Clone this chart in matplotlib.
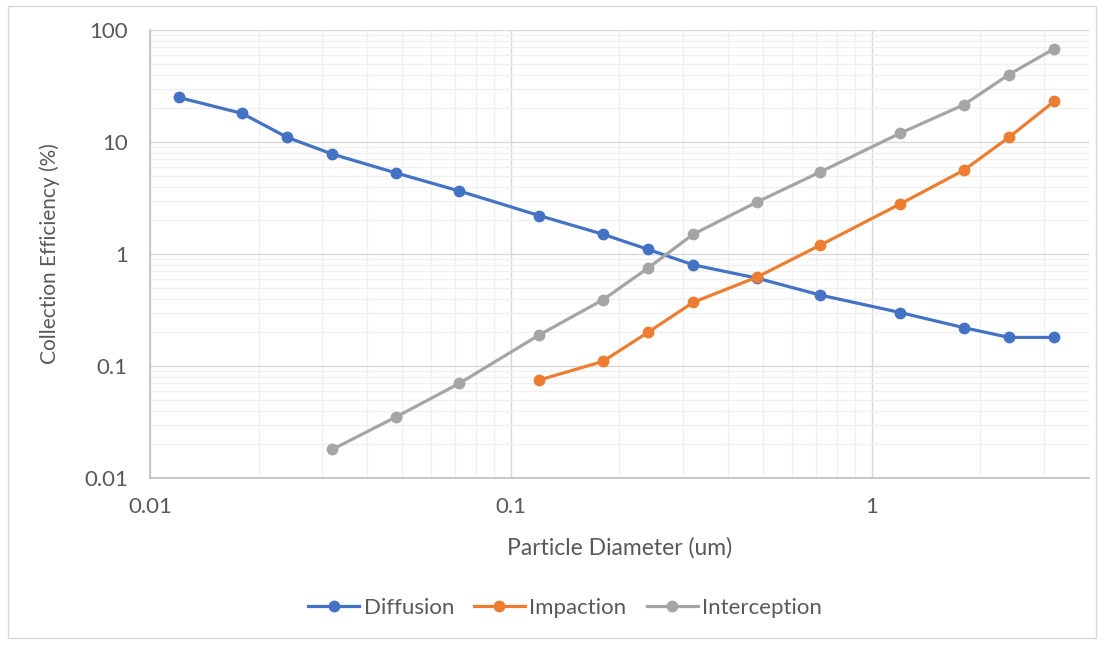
import matplotlib.pyplot as plt
from matplotlib.ticker import LogLocator, FixedLocator, NullFormatter
from matplotlib.patches import Rectangle

plt.rcParams['font.family'] = ['Lato', 'DejaVu Sans']

# particle diameter (um)
diam = [0.012, 0.018, 0.024, 0.032, 0.048, 0.072, 0.12, 0.18, 0.24,
        0.32, 0.48, 0.72, 1.2, 1.8, 2.4, 3.2]

# collection efficiency (%)
diffusion = [25, 18, 11, 7.8, 5.3, 3.65, 2.2, 1.5, 1.1,
             0.8, 0.61, 0.43, 0.30, 0.22, 0.18, 0.18]
impaction_diam = [0.12, 0.18, 0.24, 0.32, 0.48, 0.72, 1.2, 1.8, 2.4, 3.2]
impaction = [0.075, 0.11, 0.20, 0.37, 0.62, 1.2, 2.8, 5.6, 11, 23]
interception_diam = [0.032, 0.048, 0.072, 0.12, 0.18, 0.24, 0.32,
                     0.48, 0.72, 1.2, 1.8, 2.4, 3.2]
interception = [0.018, 0.035, 0.07, 0.19, 0.39, 0.75, 1.5,
                2.9, 5.4, 12, 21.5, 40, 68]

text_c = '#595959'

fig = plt.figure(figsize=(11.04, 6.45), dpi=100)
fig.patches.append(Rectangle((8 / 1104, 1 - 638 / 645), 1088 / 1104, 632 / 645,
                             transform=fig.transFigure, fill=False,
                             edgecolor='#d9d9d9', linewidth=1))
ax = fig.add_axes([150 / 1104, 1 - 478 / 645, 939 / 1104, 448 / 645])

ax.plot(diam, diffusion, color='#4472C4', marker='o', lw=2.3, ms=7.5, label='Diffusion', zorder=3)
ax.plot(impaction_diam, impaction, color='#ED7D31', marker='o', lw=2.3, ms=7.5, label='Impaction', zorder=3)
ax.plot(interception_diam, interception, color='#A5A5A5', marker='o', lw=2.3, ms=7.5, label='Interception', zorder=3)

ax.set_xscale('log')
ax.set_yscale('log')
ax.set_xlim(0.01, 4)
ax.set_ylim(0.01, 100)

ax.xaxis.set_major_locator(FixedLocator([0.01, 0.1, 1]))
ax.set_xticklabels(['0.01', '0.1', '1'])
ax.xaxis.set_minor_locator(LogLocator(base=10, subs=range(2, 10), numticks=20))
ax.xaxis.set_minor_formatter(NullFormatter())
ax.yaxis.set_major_locator(FixedLocator([0.01, 0.1, 1, 10, 100]))
ax.set_yticklabels(['0.01', '0.1', '1', '10', '100'])
ax.yaxis.set_minor_locator(LogLocator(base=10, subs=range(2, 10), numticks=20))
ax.yaxis.set_minor_formatter(NullFormatter())

ax.grid(which='major', color='#d9d9d9', lw=1)
ax.grid(which='minor', color='#f0f0f0', lw=1)
ax.set_axisbelow(True)
ax.tick_params(which='both', length=0, labelsize=16, colors=text_c)
ax.tick_params(axis='y', pad=16)
ax.tick_params(axis='x', pad=14)

for s in ['top', 'right']:
    ax.spines[s].set_visible(False)
for s in ['bottom', 'left']:
    ax.spines[s].set_color('#bfbfbf')
    ax.spines[s].set_linewidth(1.2)

ax.set_xlabel('Particle Diameter (um)', fontsize=16.5, color=text_c)
ax.set_ylabel('Collection Efficiency (%)', fontsize=15, color=text_c)
ax.xaxis.set_label_coords(0.5, -70 / 448, transform=ax.transAxes)
ax.xaxis.label.set_va('center')
ax.yaxis.set_label_coords(-100 / 939, 0.5, transform=ax.transAxes)
ax.yaxis.label.set_va('center')

leg = fig.legend(loc='center', bbox_to_anchor=(565 / 1104, 1 - 608 / 645), ncol=3,
                 frameon=False, fontsize=16, handlelength=2.3, columnspacing=0.9,
                 handletextpad=0.2)
for t in leg.get_texts():
    t.set_color(text_c)

fig.savefig('out.png', dpi=100)
